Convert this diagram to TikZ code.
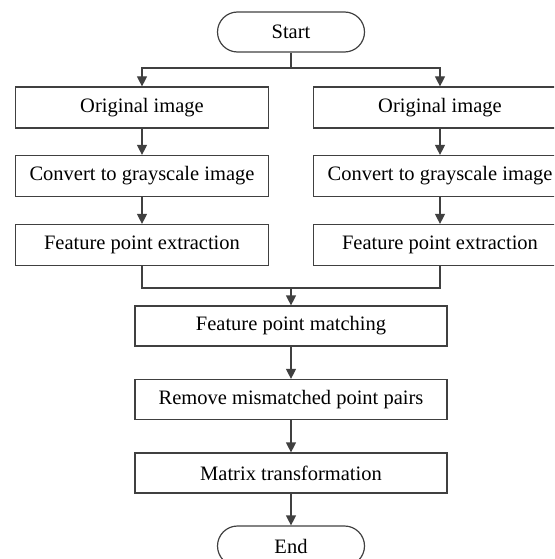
\documentclass[tikz,border=0pt]{standalone}
\usepackage{fontspec}
\setmainfont{Liberation Serif}
\usetikzlibrary{arrows.meta}
\begin{document}
\begin{tikzpicture}[x=1pt,y=-1pt,
    line width=1.2pt, draw=black!75,
    every node/.style={font=\fontsize{20.5}{24}\selectfont, text=black},
    stepbox/.style={draw, rectangle, minimum width=253pt, minimum height=41pt, inner sep=0pt},
    widebox/.style={stepbox, minimum width=312pt, minimum height=40pt},
    terminal/.style={draw, rectangle, rounded corners=20pt, minimum width=147pt, minimum height=40pt, inner sep=0pt},
    arr/.style={-{Triangle[length=10pt,width=10pt]}}]
    \useasboundingbox (0,0) rectangle (554,559);
    \clip (0,0) rectangle (554,559);
    % terminals
    \node[terminal] (start) at (291,32) {Start};
    \node[terminal] (end) at (291,546) {End};
    % left branch
    \node[stepbox] (l1) at (142,107.5) {Original image};
    \node[stepbox] (l2) at (142,176) {Convert to grayscale image};
    \node[stepbox] (l3) at (142,245) {Feature point extraction};
    % right branch
    \node[stepbox] (r1) at (440,107.5) {Original image};
    \node[stepbox] (r2) at (440,176) {Convert to grayscale image};
    \node[stepbox] (r3) at (440,245) {Feature point extraction};
    % common part
    \node[widebox] (match) at (291,326) {Feature point matching};
    \node[widebox] (remove) at (291,399.5) {Remove mismatched point pairs};
    \node[widebox] (matrix) at (291,473) {Matrix transformation};
    % connectors
    \coordinate (fork) at (291,68);
    \coordinate (join) at (291,288);
    \draw (start) -- (fork);
    \draw[arr] (fork) -| (l1);
    \draw[arr] (fork) -| (r1);
    \draw[arr] (l1) -- (l2);
    \draw[arr] (l2) -- (l3);
    \draw[arr] (r1) -- (r2);
    \draw[arr] (r2) -- (r3);
    \draw (l3) |- (join);
    \draw (r3) |- (join);
    \draw[arr] (join) -- (match);
    \draw[arr] (match) -- (remove);
    \draw[arr] (remove) -- (matrix);
    \draw[arr] (matrix) -- (end);
\end{tikzpicture}
\end{document}
